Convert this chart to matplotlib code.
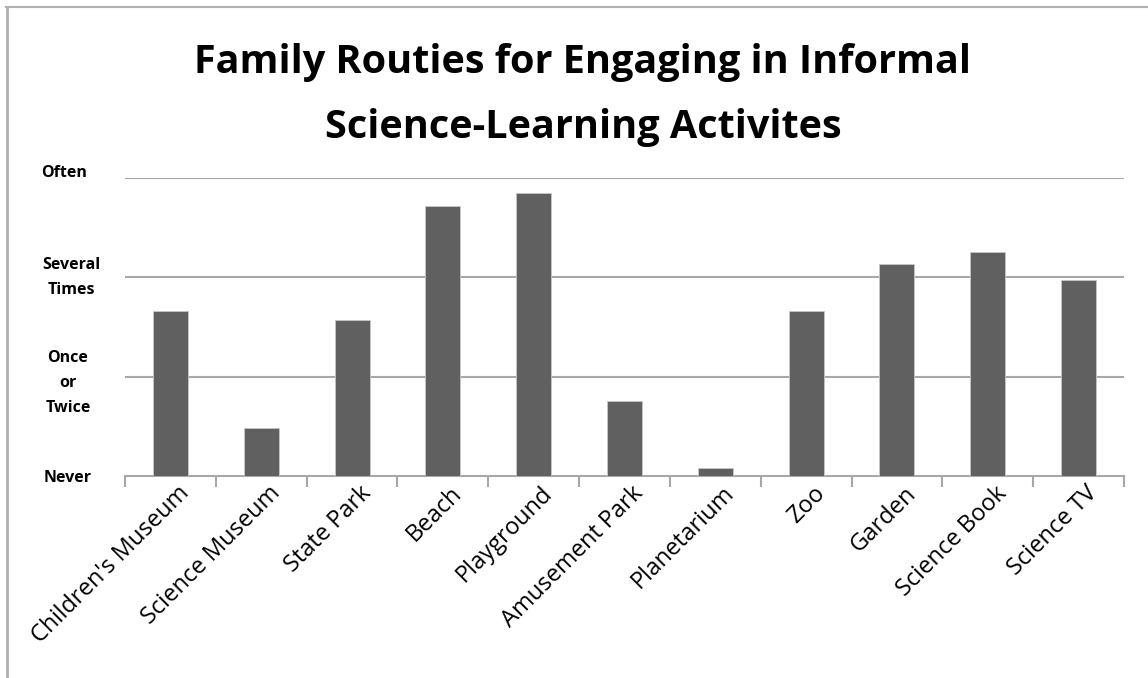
import matplotlib
matplotlib.use("Agg")
import matplotlib.pyplot as plt
from matplotlib.lines import Line2D
import matplotlib.transforms as mtransforms
import numpy as np

categories = ["Children's Museum", "Science Museum", "State Park", "Beach", "Playground",
              "Amusement Park", "Planetarium", "Zoo", "Garden", "Science Book", "Science TV"]
values = [1.66, 0.48, 1.57, 2.72, 2.85, 0.75, 0.08, 1.66, 2.13, 2.25, 1.97]
ytick_vals = [0, 1, 2, 3]
ytick_labels = ["Never", "Once\nor\nTwice", "Several\nTimes", "Often"]
title = "Family Routies for Engaging in Informal\nScience-Learning Activites"

W, H = 1148, 678
fig = plt.figure(figsize=(W / 100, H / 100), dpi=100)
left, right, top, bottom = 125, 1124, 177.7, 476
ax = fig.add_axes([left / W, 1 - bottom / H, (right - left) / W, (bottom - top) / H])

x = np.arange(len(categories))
ax.bar(x, values, width=0.385, color="#606060", edgecolor="#c8c8c8", linewidth=0.6, zorder=3)
ax.set_xlim(-0.5, len(categories) - 0.5)
ax.set_ylim(0, 3)

grid_c = "#a8a8a8"
for v in ytick_vals[1:]:
    ax.axhline(v, color=grid_c, linewidth=1.5, zorder=1)

for s in ["top", "right", "left"]:
    ax.spines[s].set_visible(False)
ax.spines["bottom"].set_color(grid_c)
ax.spines["bottom"].set_linewidth(1.5)

ax.set_yticks(ytick_vals)
ax.set_yticklabels(ytick_labels, fontfamily="Open Sans", fontweight="bold", fontsize=11.5,
                   ha="center", multialignment="center", linespacing=1.75)
ax.tick_params(axis="y", length=0, pad=41)
ylbls = ax.get_yticklabels()
ylbls[-1].set_transform(ylbls[-1].get_transform() +
                        mtransforms.ScaledTranslation(-4 / 100, 7 / 100, fig.dpi_scale_trans))
ylbls[-2].set_transform(ylbls[-2].get_transform() +
                        mtransforms.ScaledTranslation(3 / 100, 6 / 100, fig.dpi_scale_trans))

ax.set_xticks(np.arange(len(categories) + 1) - 0.5, minor=True)
ax.tick_params(axis="x", which="minor", length=8, width=1.5, color=grid_c, direction="out")
ax.set_xticks(x)
ax.set_xticklabels(categories, rotation=45, ha="right", rotation_mode="anchor",
                   fontfamily="Open Sans", fontsize=17)
ax.tick_params(axis="x", which="major", length=0, pad=4)
offset = mtransforms.ScaledTranslation(7 / 100, 0, fig.dpi_scale_trans)
for lbl in ax.get_xticklabels():
    lbl.set_transform(lbl.get_transform() + offset)

fig.text(583 / W, 1 - 95 / H, title, ha="center", va="center",
         fontfamily="Open Sans", fontweight="bold", fontsize=28.5, linespacing=1.85)

# outer chart border (left and top only visible)
fig.add_artist(Line2D([7 / W, 7 / W], [0, 1 - 7 / H], transform=fig.transFigure,
                      color="#b0b0b0", linewidth=2))
fig.add_artist(Line2D([6 / W, 1], [1 - 7 / H, 1 - 7 / H], transform=fig.transFigure,
                      color="#b0b0b0", linewidth=1.5))

fig.savefig("out.png", dpi=100, facecolor="white")
